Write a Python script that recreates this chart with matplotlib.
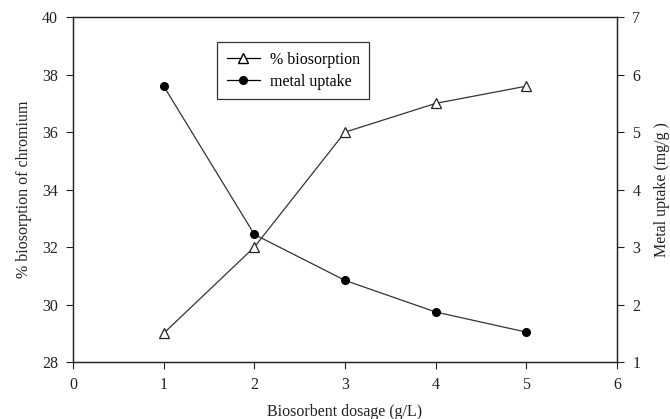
import matplotlib
matplotlib.use('Agg')
import matplotlib.pyplot as plt
from matplotlib.lines import Line2D

plt.rcParams['font.family'] = 'Liberation Serif'
plt.rcParams['font.size'] = 11.5

# dosage (g/L) vs. % biosorption and metal uptake
dosage = [1, 2, 3, 4, 5]
biosorption = [29.0, 32.0, 36.0, 37.0, 37.6]
uptake = [5.8, 3.22, 2.42, 1.87, 1.52]

fig = plt.figure(figsize=(6.7, 4.19), dpi=100)
ax = fig.add_axes([0.109, 0.136, 0.812, 0.823])
ax2 = ax.twinx()

ax.plot(dosage, biosorption, color='#333333', lw=0.9, marker='^', markersize=7,
        markerfacecolor='white', markeredgecolor='#222222', markeredgewidth=0.9)
ax2.plot(dosage, uptake, color='#333333', lw=0.9, marker='o', markersize=5.5,
         markerfacecolor='black', markeredgecolor='black')

ax.set_xlim(0, 6)
ax.set_ylim(28, 40)
ax2.set_ylim(1, 7)
ax.set_xticks(range(0, 7))
ax.set_yticks(range(28, 41, 2))
ax2.set_yticks(range(1, 8))

for a in (ax, ax2):
    a.tick_params(direction='out', length=5, width=0.8, colors='#222222',
                  labelsize=11.5, pad=6)
    for s in a.spines.values():
        s.set_linewidth(0.9)
        s.set_color('#222222')

ax.set_xlabel('Biosorbent dosage (g/L)', color='#222222', fontsize=11.5, labelpad=8)
ax.set_ylabel('% biosorption of chromium', color='#222222', fontsize=11.5, labelpad=7)
ax2.set_ylabel('Metal uptake (mg/g )', color='#222222', fontsize=11.5, labelpad=10)

handles = [
    Line2D([], [], color='black', lw=0.9, marker='^', markersize=7,
           markerfacecolor='white', markeredgecolor='black'),
    Line2D([], [], color='black', lw=0.9, marker='o', markersize=5.5,
           markerfacecolor='black'),
]
leg = ax.legend(handles, ['% biosorption', 'metal uptake'],
                loc='upper left', bbox_to_anchor=(0.25, 0.95),
                fancybox=False, framealpha=1, edgecolor='#333333',
                handlelength=2.1, handletextpad=0.6, borderpad=0.6,
                labelspacing=0.35, fontsize=11.5)
leg.get_frame().set_linewidth(0.9)

fig.savefig('out.png', dpi=100)
